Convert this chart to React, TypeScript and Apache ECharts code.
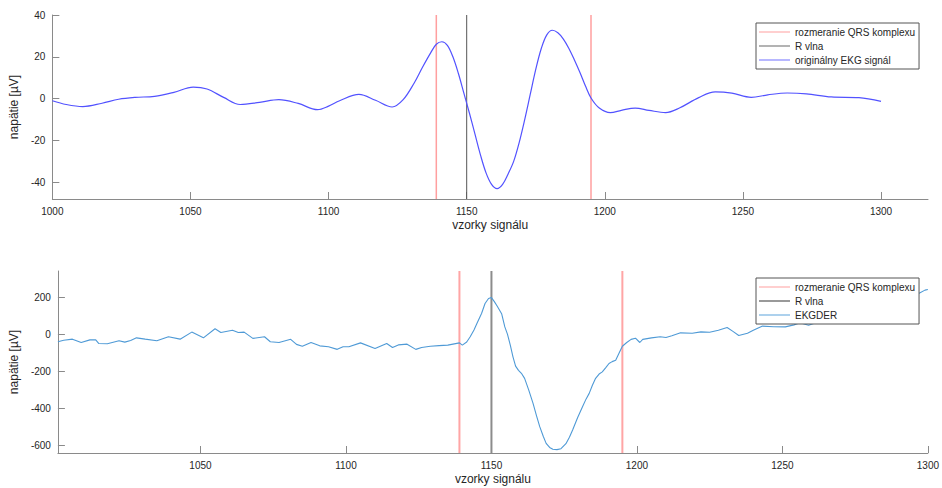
import React, { useEffect, useRef } from "react";
import * as echarts from "echarts";

// ---- data ----
const ekgSamples = [1000, 1005, 1011, 1018, 1024, 1030, 1037, 1044, 1051, 1056, 1062, 1068, 1075, 1082, 1089, 1096, 1100, 1104, 1111, 1117, 1123, 1127, 1131, 1134, 1137, 1139, 1141, 1143, 1145, 1147, 1149, 1151, 1153, 1155, 1157, 1159, 1161, 1163, 1165, 1167, 1169, 1171, 1173, 1175, 1177, 1179, 1181, 1183, 1185, 1187, 1189, 1191, 1193, 1195, 1198, 1202, 1206, 1211, 1216, 1222, 1227, 1234, 1240, 1246, 1253, 1259, 1266, 1273, 1282, 1292, 1300];
const ekgValues = [-1, -2.8, -3.8, -2.2, -0.3, 0.6, 1.1, 3.0, 5.5, 4.6, 0.6, -2.8, -1.8, -0.5, -2.3, -5.3, -3.6, -1.0, 2.0, -0.8, -4.0, -0.5, 7.5, 15, 22, 26, 27.2, 25.5, 20, 12, 2.5, -7, -17, -27, -35.5, -41, -43, -41, -36, -30, -21, -10, 2, 14, 24, 30.5, 32.7, 31.5, 28.5, 24, 18.5, 12.5, 6, 0.3, -4.5, -6.7, -5.6, -4.5, -5.6, -6.7, -4.5, 0.5, 3.2, 2.6, 0.6, 1.8, 2.7, 2.3, 0.8, 0.5, -1.3];

const derSamples = [1001, 1003, 1006, 1009, 1012, 1014, 1015, 1018, 1022, 1024, 1026, 1028, 1031, 1035, 1039, 1043, 1047, 1051, 1055, 1057, 1061, 1063, 1065, 1068, 1072, 1074, 1077, 1081, 1083, 1085, 1088, 1091, 1094, 1097, 1099, 1101, 1105, 1110, 1114, 1116, 1118, 1121, 1124, 1126, 1129, 1132, 1135, 1139, 1140, 1141.5, 1142.7, 1144, 1145, 1146.6, 1147.8, 1149, 1150, 1151, 1152, 1153.5, 1154.6, 1155.5, 1156.5, 1157.4, 1158.3, 1159.3, 1160.3, 1161.4, 1162.8, 1164.3, 1165.5, 1166.6, 1167.8, 1168.8, 1170, 1171.1, 1172.5, 1173.9, 1175.6, 1176.8, 1177.9, 1179.6, 1181.3, 1182.5, 1183.6, 1184.7, 1185.8, 1187, 1188.1, 1189.3, 1190.4, 1191.5, 1192.7, 1193.8, 1195, 1196.5, 1198, 1199.5, 1201, 1202, 1205, 1208, 1210, 1212, 1215, 1219, 1222, 1225, 1228, 1231, 1233, 1235, 1238, 1240, 1243, 1247, 1251, 1254, 1256, 1259, 1264, 1270, 1276, 1282, 1288, 1293, 1295, 1297, 1299, 1300];
const derValues = [-41, -33, -27, -45, -31, -31, -50, -52, -36, -43, -34, -20, -27, -36, -14, -27, 11, -20, 29, 9, 21, 9, 11, -23, -14, -41, -45, -28, -55, -65, -45, -63, -68, -82, -68, -68, -47, -77, -50, -72, -58, -54, -82, -72, -65, -62, -59, -47, -59, -42, -14, 22, 57, 111, 165, 192, 197, 175, 150, 110, 39, 0, -60, -122, -172, -195, -211, -238, -300, -373, -440, -498, -550, -588, -610, -620, -622, -617, -590, -555, -516, -450, -391, -350, -319, -275, -238, -215, -203, -180, -158, -148, -140, -104, -65, -45, -28, -22, -45, -28, -20, -14, -18, -9, 7, 5, 12, 10, 21, 36, 15, -7, 5, 21, 43, 40, 39, 50, 61, 48, 75, 100, 130, 160, 190, 215, 227, 220, 237, 240];

const qrsBounds = [1139, 1195];
const rPeak = 1150;

const topXTicks = [1000, 1050, 1100, 1150, 1200, 1250, 1300];
const topYTicks = [-40, -20, 0, 20, 40];
const botXTicks = [1050, 1100, 1150, 1200, 1250, 1300];
const botYTicks = [-600, -400, -200, 0, 200];

const topLimits = { xMin: 1000, xMax: 1317, yMin: -48, yMax: 40 };
const botLimits = { xMin: 1001, xMax: 1300, yMin: -640, yMax: 340 };

const QRS_NAME = "rozmeranie QRS komplexu";
const R_NAME = "R vlna";
const EKG_NAME = "originálny EKG signál";
const DER_NAME = "EKGDER";

const FONT = "'Liberation Sans', Arial, Helvetica, sans-serif";
const TXT = "#262626";
const AX = "#8a8a8a";

const plain = (v: number) => String(v);

function xAxisCfg(grid: number, lim: any, ticks: number[]) {
  return {
    type: "value",
    gridIndex: grid,
    min: lim.xMin,
    max: lim.xMax,
    axisLine: { show: true, onZero: false, lineStyle: { color: AX, width: 1 } },
    axisTick: { show: true, inside: true, length: 7, customValues: ticks, lineStyle: { color: AX } },
    axisLabel: { customValues: ticks, formatter: plain, color: TXT, fontSize: 10, margin: 7, fontFamily: FONT },
    splitLine: { show: false },
    name: "vzorky signálu",
    nameLocation: "middle",
    nameGap: 20,
    nameTextStyle: { color: TXT, fontSize: 12, fontFamily: FONT },
  };
}

function yAxisCfg(grid: number, lim: any, ticks: number[], gap: number) {
  return {
    type: "value",
    gridIndex: grid,
    min: lim.yMin,
    max: lim.yMax,
    axisLine: { show: true, onZero: false, lineStyle: { color: AX, width: 1 } },
    axisTick: { show: true, inside: true, length: 7, customValues: ticks, lineStyle: { color: AX } },
    axisLabel: { customValues: ticks, formatter: plain, color: TXT, fontSize: 10, margin: 7, fontFamily: FONT },
    splitLine: { show: false },
    name: "napätie [µV]",
    nameLocation: "middle",
    nameGap: gap,
    nameTextStyle: { color: TXT, fontSize: 12, fontFamily: FONT },
  };
}

function vLine(name: string, x: number, lim: any, idx: number, color: string, width: number) {
  return {
    name,
    type: "line",
    xAxisIndex: idx,
    yAxisIndex: idx,
    data: [[x, lim.yMin], [x, lim.yMax]],
    symbol: "none",
    lineStyle: { color, width },
    itemStyle: { color },
    silent: true,
    z: 2,
  };
}

function legendCfg(top: number, items: { name: string; color: string }[]) {
  return {
    orient: "vertical",
    left: 756,
    top,
    padding: [3, 4, 3, 3],
    itemWidth: 31,
    itemHeight: 12,
    itemGap: 2,
    backgroundColor: "#ffffff",
    borderColor: "#555555",
    borderWidth: 1,
    borderRadius: 0,
    selectedMode: false,
    z: 10,
    textStyle: { color: TXT, fontSize: 10, fontFamily: FONT, lineHeight: 12 },
    data: items.map((it) => ({
      name: it.name,
      icon: "path://M0,5.5 L31,5.5 L31,6.5 L0,6.5 Z",
      itemStyle: { color: it.color, borderWidth: 0 },
      lineStyle: { color: it.color },
    })),
  };
}

export default function App() {
  const ref = useRef<HTMLDivElement>(null);
  useEffect(() => {
    if (!ref.current) return;
    const chart = echarts.init(ref.current, null, { renderer: "svg" });
    const redTop = "#ff9f9f";
    const option = {
      animation: false,
      backgroundColor: "#ffffff",
      textStyle: { fontFamily: FONT },
      grid: [
        { left: 52, top: 15, width: 876, height: 184, containLabel: false },
        { left: 52, top: 271, width: 876, height: 182, containLabel: false },
      ],
      xAxis: [xAxisCfg(0, topLimits, topXTicks), xAxisCfg(1, botLimits, botXTicks)],
      yAxis: [yAxisCfg(0, topLimits, topYTicks, 24), yAxisCfg(1, botLimits, botYTicks, 32)],
      legend: [
        legendCfg(23, [
          { name: QRS_NAME, color: redTop },
          { name: R_NAME, color: "#666666" },
          { name: EKG_NAME, color: "#6f6fff" },
        ]),
        legendCfg(278, [
          { name: QRS_NAME, color: redTop },
          { name: R_NAME, color: "#333333" },
          { name: DER_NAME, color: "#5aa2da" },
        ]),
      ],
      series: [
        vLine(QRS_NAME, qrsBounds[0], topLimits, 0, redTop, 1.5),
        vLine(QRS_NAME, qrsBounds[1], topLimits, 0, redTop, 1.5),
        vLine(R_NAME, rPeak, topLimits, 0, "#555555", 1),
        {
          name: EKG_NAME,
          type: "line",
          xAxisIndex: 0,
          yAxisIndex: 0,
          data: ekgSamples.map((s, i) => [s, ekgValues[i]]),
          symbol: "none",
          smooth: 0.35,
          lineStyle: { color: "#5252ff", width: 1.2 },
          itemStyle: { color: "#5252ff" },
          silent: true,
          z: 3,
        },
        vLine(QRS_NAME, qrsBounds[0], botLimits, 1, "#ffa5a5", 2),
        vLine(QRS_NAME, qrsBounds[1], botLimits, 1, "#ffa5a5", 2),
        vLine(R_NAME, rPeak, botLimits, 1, "#8c8c8c", 2),
        {
          name: DER_NAME,
          type: "line",
          xAxisIndex: 1,
          yAxisIndex: 1,
          data: derSamples.map((s, i) => [s, derValues[i]]),
          symbol: "none",
          lineStyle: { color: "#4f9ad6", width: 1.1 },
          itemStyle: { color: "#4f9ad6" },
          silent: true,
          z: 3,
        },
      ],
    };
    chart.setOption(option as any);
    return () => chart.dispose();
  }, []);
  return (
    <div
      ref={ref}
      style={{ position: "fixed", left: 0, top: 0, width: 942, height: 488, background: "#fff" }}
    />
  );
}
